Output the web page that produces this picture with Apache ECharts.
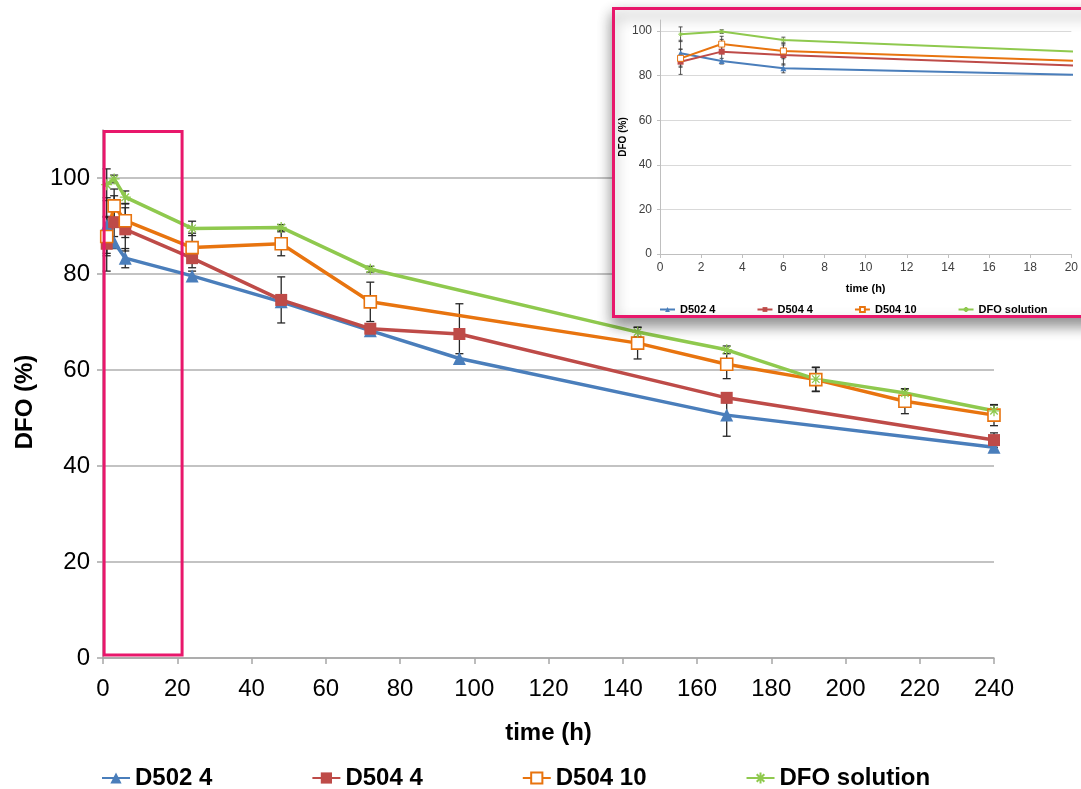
<!DOCTYPE html>
<html>
<head>
<meta charset="utf-8">
<script src="https://cdn.jsdelivr.net/npm/echarts@6/dist/echarts.min.js"></script>
<style>
  html, body { margin: 0; padding: 0; background: #ffffff; }
  #chart { width: 1081px; height: 789px; }
</style>
</head>
<body>
<div id="chart"></div>
<script>
// Sampling times (h) per formulation
const timesD502_4  = [1, 3, 6, 24, 48, 72, 96, 168, 240];
const timesD504_4  = [1, 3, 6, 24, 48, 72, 96, 168, 240];
const timesD504_10 = [1, 3, 6, 24, 48, 72, 144, 168, 192, 216, 240];
const timesDFO     = [1, 3, 6, 24, 48, 72, 144, 168, 192, 216, 240];

// Mean remaining DFO (%)
const valuesD502_4  = [90.1, 86.6, 83.3, 79.6, 74.2, 68.2, 62.4, 50.6, 43.9];
const valuesD504_4  = [86.3, 90.8, 89.3, 83.3, 74.6, 68.6, 67.5, 54.2, 45.4];
const valuesD504_10 = [87.8, 94.2, 91.1, 85.5, 86.3, 74.2, 65.6, 61.2, 58.0, 53.5, 50.6];
const valuesDFO     = [98.6, 99.8, 96.0, 89.5, 89.7, 81.0, 67.9, 64.2, 58.1, 55.2, 51.5];

// Standard deviations (%)
const sdD502_4  = [5.8, 1.2, 2.0, 1.0, 1.0, 0.8, 1.0, 4.4, 0.6];
const sdD504_4  = [5.7, 5.5, 4.5, 2.0, 4.8, 1.0, 6.3, 1.0, 1.5];
const sdD504_10 = [4.0, 3.5, 3.5, 3.0, 2.5, 4.1, 3.3, 3.0, 2.5, 2.6, 2.2];
const sdDFO     = [3.3, 0.8, 1.3, 1.5, 0.6, 0.6, 1.0, 0.8, 2.5, 0.8, 1.2];

const seriesNames = ['D502 4', 'D504 4', 'D504 10', 'DFO solution'];

// Axis tick settings
const mainXTicks  = { min: 0, max: 240, step: 20 };
const mainYTicks  = [0, 20, 40, 60, 80, 100];
const insetXTicks = { min: 0, max: 20, step: 2 };
const insetYTicks = [0, 20, 40, 60, 80, 100];

// Highlighted early-time window on the main plot: [t0, y0, t1, y1]
const zoomWindow = [0.3, 0.6, 21.3, 109.7];

const FONT = '"Liberation Sans", Arial, Helvetica, sans-serif';
const COLORS = ['#4A7EBB', '#BE4B48', '#E8740F', '#8FC94E'];
const PINK = '#E8176B';
const ASTERISK = 'path://M0,5L10,5M5,0L5,10M1.6,1.6L8.4,8.4M8.4,1.6L1.6,8.4';

const groups = [
  { t: timesD502_4,  v: valuesD502_4,  e: sdD502_4 },
  { t: timesD504_4,  v: valuesD504_4,  e: sdD504_4 },
  { t: timesD504_10, v: valuesD504_10, e: sdD504_10 },
  { t: timesDFO,     v: valuesDFO,     e: sdDFO }
];

function points(g, tMax) {
  const out = [];
  g.t.forEach((x, i) => { if (x <= tMax + 4) out.push([x, g.v[i]]); });
  return out;
}
function errPoints(g, tMax) {
  const out = [];
  g.t.forEach((x, i) => { if (x <= tMax) out.push([x, g.v[i], g.e[i]]); });
  return out;
}

function errorBarRender(capHalf, lineWidth, color) {
  return function (params, api) {
    const x = api.value(0), y = api.value(1), e = api.value(2);
    const hi = api.coord([x, y + e]);
    const lo = api.coord([x, y - e]);
    const style = { stroke: color, lineWidth: lineWidth, fill: null };
    return {
      type: 'group',
      children: [
        { type: 'line', shape: { x1: hi[0], y1: hi[1], x2: lo[0], y2: lo[1] }, style: style },
        { type: 'line', shape: { x1: hi[0] - capHalf, y1: hi[1], x2: hi[0] + capHalf, y2: hi[1] }, style: style },
        { type: 'line', shape: { x1: lo[0] - capHalf, y1: lo[1], x2: lo[0] + capHalf, y2: lo[1] }, style: style }
      ]
    };
  };
}

function symbolStyle(idx, big) {
  const c = COLORS[idx];
  if (idx === 0) return { symbol: 'triangle', size: big ? 13 : 6, item: { color: c } };
  if (idx === 1) return { symbol: 'rect', size: big ? 12 : 6, item: { color: c } };
  if (idx === 2) return { symbol: 'rect', size: big ? 12 : 6, item: { color: '#ffffff', borderColor: c, borderWidth: big ? 1.6 : 1 } };
  return { symbol: ASTERISK, size: big ? 11 : 5, item: { color: c, borderColor: c, borderWidth: big ? 1.3 : 0.8 } };
}

const series = [];

// Main plot: error bars, lines and the highlighted window
groups.forEach((g) => {
  series.push({
    type: 'custom',
    xAxisIndex: 0, yAxisIndex: 0,
    z: 1,
    silent: true,
    encode: { x: 0, y: 1 },
    renderItem: errorBarRender(4, 1.3, '#262626'),
    data: errPoints(g, mainXTicks.max)
  });
});
groups.forEach((g, i) => {
  const s = symbolStyle(i, true);
  series.push({
    name: seriesNames[i],
    type: 'line',
    xAxisIndex: 0, yAxisIndex: 0,
    z: 2,
    symbol: s.symbol,
    symbolSize: s.size,
    showAllSymbol: true,
    lineStyle: { color: COLORS[i], width: 3.5 },
    itemStyle: s.item,
    emphasis: { disabled: true },
    data: points(g, mainXTicks.max)
  });
});
series.push({
  type: 'custom',
  xAxisIndex: 0, yAxisIndex: 0,
  z: 5,
  silent: true,
  clip: false,
  encode: { x: [0, 2], y: [1, 3] },
  renderItem: function (params, api) {
    const p0 = api.coord([api.value(0), api.value(3)]);
    const p1 = api.coord([api.value(2), api.value(1)]);
    return {
      type: 'rect',
      shape: { x: p0[0], y: p0[1], width: p1[0] - p0[0], height: p1[1] - p0[1] },
      style: { fill: null, stroke: PINK, lineWidth: 3 }
    };
  },
  data: [zoomWindow]
});

// Inset plot: first 20 h
groups.forEach((g) => {
  series.push({
    type: 'custom',
    xAxisIndex: 1, yAxisIndex: 1,
    z: 60,
    silent: true,
    encode: { x: 0, y: 1 },
    renderItem: errorBarRender(2, 0.9, '#404040'),
    data: errPoints(g, insetXTicks.max)
  });
});
groups.forEach((g, i) => {
  const s = symbolStyle(i, false);
  series.push({
    name: seriesNames[i],
    type: 'line',
    xAxisIndex: 1, yAxisIndex: 1,
    z: 61,
    clip: true,
    symbol: s.symbol,
    symbolSize: s.size,
    showAllSymbol: true,
    lineStyle: { color: COLORS[i], width: 2 },
    itemStyle: s.item,
    emphasis: { disabled: true },
    data: points(g, insetXTicks.max)
  });
});

const option = {
  animation: false,
  backgroundColor: '#ffffff',
  textStyle: { fontFamily: FONT },
  grid: [
    { left: 103, right: 87, top: 130, bottom: 131, containLabel: false },
    { left: 660, right: 7, top: 20, bottom: 535, containLabel: false, z: 60 }
  ],
  xAxis: [
    {
      type: 'value', gridIndex: 0,
      min: mainXTicks.min, max: mainXTicks.max, interval: mainXTicks.step,
      name: 'time (h)', nameLocation: 'middle', nameGap: 63,
      nameTextStyle: { fontSize: 24, fontWeight: 'bold', color: '#000', fontFamily: FONT },
      axisLine: { show: true, lineStyle: { color: '#A6A6A6', width: 1.5 } },
      axisTick: { show: true, length: 6, lineStyle: { color: '#A6A6A6', width: 1.5 } },
      axisLabel: { fontSize: 24, color: '#000', margin: 19, fontFamily: FONT },
      splitLine: { show: false }
    },
    {
      type: 'value', gridIndex: 1, z: 60,
      min: insetXTicks.min, max: insetXTicks.max, interval: insetXTicks.step,
      name: 'time (h)', nameLocation: 'middle', nameGap: 29,
      nameTextStyle: { fontSize: 11, fontWeight: 'bold', color: '#000', fontFamily: FONT },
      axisLine: { show: true, lineStyle: { color: '#BFBFBF', width: 1 } },
      axisTick: { show: true, length: 4, lineStyle: { color: '#BFBFBF' } },
      axisLabel: { fontSize: 12, color: '#404040', margin: 8, fontFamily: FONT },
      splitLine: { show: false }
    }
  ],
  yAxis: [
    {
      type: 'value', gridIndex: 0,
      min: 0, max: 110, interval: 20,
      name: 'DFO (%)', nameLocation: 'middle', nameGap: 66,
      nameTextStyle: { fontSize: 24, fontWeight: 'bold', color: '#000', fontFamily: FONT, padding: [0, 16, 0, 0] },
      axisLine: { show: true, lineStyle: { color: '#A6A6A6', width: 1.5 } },
      axisTick: { show: true, length: 6, customValues: mainYTicks, lineStyle: { color: '#A6A6A6', width: 1.5 } },
      axisLabel: { fontSize: 24, color: '#000', margin: 13, fontFamily: FONT, customValues: mainYTicks },
      splitLine: { show: true, lineStyle: { color: '#AFAFAF', width: 1.5 } }
    },
    {
      type: 'value', gridIndex: 1, z: 60,
      min: 0, max: 105, interval: 20,
      name: 'DFO (%)', nameLocation: 'middle', nameGap: 28,
      nameTextStyle: { fontSize: 10, fontWeight: 'bold', color: '#000', fontFamily: FONT },
      axisLine: { show: true, lineStyle: { color: '#BFBFBF', width: 1 } },
      axisTick: { show: true, length: 3, customValues: insetYTicks, lineStyle: { color: '#BFBFBF' } },
      axisLabel: { fontSize: 12, color: '#404040', margin: 8, fontFamily: FONT, customValues: insetYTicks },
      splitLine: { show: true, lineStyle: { color: '#D9D9D9', width: 1 } }
    }
  ],
  legend: [
    {
      data: seriesNames,
      left: 96, top: 761,
      itemGap: 99, itemWidth: 28, itemHeight: 14,
      selectedMode: false,
      textStyle: { fontSize: 24, fontWeight: 'bold', color: '#000', fontFamily: FONT }
    },
    {
      data: seriesNames,
      left: 654, top: 299, z: 62,
      itemGap: 41, itemWidth: 15, itemHeight: 6,
      selectedMode: false,
      textStyle: { fontSize: 11, fontWeight: 'bold', color: '#000', fontFamily: FONT }
    }
  ],
  graphic: {
    elements: [
      {
        type: 'rect', z: 50, silent: true,
        shape: { x: 613.5, y: 8.5, width: 500, height: 308 },
        style: {
          fill: '#ffffff', stroke: PINK, lineWidth: 3,
          shadowBlur: 14, shadowOffsetX: 0, shadowOffsetY: 7, shadowColor: 'rgba(0,0,0,0.45)'
        }
      }
    ]
  },
  series: series
};

const chart = echarts.init(document.getElementById('chart'), null, { renderer: 'canvas' });
chart.setOption(option);
</script>
</body>
</html>
